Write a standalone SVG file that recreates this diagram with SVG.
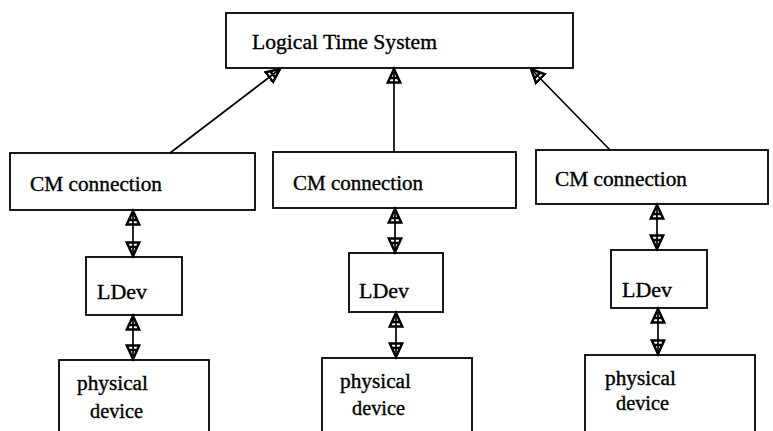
<svg xmlns="http://www.w3.org/2000/svg" width="773" height="431" viewBox="0 0 773 431">
  <style>
    .box { fill: #fff; stroke: #000; stroke-width: 1.8; }
    .conn { stroke: #000; stroke-width: 1.7; fill: none; }
  </style>
  <defs>
    <marker id="head" markerUnits="userSpaceOnUse" markerWidth="18" markerHeight="16" refX="13" refY="7" viewBox="0 0 16 14" orient="auto-start-reverse">
      <path d="M1,1.5 L13,7 L1,12.5 Z M5,3.3 L5,10.7" fill="none" stroke="#000" stroke-width="2.2" stroke-linejoin="miter"/>
    </marker>
  </defs>

  <rect width="773" height="431" fill="#fff"/>

  <!-- all labels share one serif face, stretched to the printed widths -->
  <g font-family="Liberation Serif, DejaVu Serif, serif" font-size="20" fill="#000" stroke="#000" stroke-width="0.35">
    <g id="logical-time-system">
      <rect class="box" x="226" y="13" width="347" height="55"/>
      <text x="252" y="49" textLength="185" lengthAdjust="spacingAndGlyphs">Logical Time System</text>
    </g>

    <g id="cm-connection-1">
      <rect class="box" x="10" y="153" width="245" height="57"/>
      <text x="30" y="191" textLength="132" lengthAdjust="spacingAndGlyphs">CM connection</text>
    </g>
    <g id="cm-connection-2">
      <rect class="box" x="273" y="152" width="243" height="56"/>
      <text x="293" y="190" textLength="130" lengthAdjust="spacingAndGlyphs">CM connection</text>
    </g>
    <g id="cm-connection-3">
      <rect class="box" x="536" y="150" width="232" height="54"/>
      <text x="555" y="186" textLength="132" lengthAdjust="spacingAndGlyphs">CM connection</text>
    </g>

    <g id="ldev-1">
      <rect class="box" x="86" y="257" width="96" height="58"/>
      <text x="97" y="299" textLength="50" lengthAdjust="spacingAndGlyphs">LDev</text>
    </g>
    <g id="ldev-2">
      <rect class="box" x="349" y="253" width="94" height="59"/>
      <text x="359" y="298" textLength="50" lengthAdjust="spacingAndGlyphs">LDev</text>
    </g>
    <g id="ldev-3">
      <rect class="box" x="611" y="250" width="96" height="58"/>
      <text x="622" y="297" textLength="50" lengthAdjust="spacingAndGlyphs">LDev</text>
    </g>

    <g id="physical-device-1">
      <rect class="box" x="59" y="360" width="150" height="90"/>
      <text x="77" y="390" textLength="71" lengthAdjust="spacingAndGlyphs">physical</text>
      <text x="90" y="418" textLength="53" lengthAdjust="spacingAndGlyphs">device</text>
    </g>
    <g id="physical-device-2">
      <rect class="box" x="322" y="358" width="150" height="90"/>
      <text x="340" y="388" textLength="71" lengthAdjust="spacingAndGlyphs">physical</text>
      <text x="352" y="415" textLength="53" lengthAdjust="spacingAndGlyphs">device</text>
    </g>
    <g id="physical-device-3">
      <rect class="box" x="585" y="355" width="170" height="90"/>
      <text x="605" y="385" textLength="71" lengthAdjust="spacingAndGlyphs">physical</text>
      <text x="616" y="410" textLength="53" lengthAdjust="spacingAndGlyphs">device</text>
    </g>
  </g>

  <g id="connectors">
    <line class="conn" x1="170" y1="153" x2="280" y2="69" marker-end="url(#head)"/>
    <line class="conn" x1="394" y1="152" x2="394" y2="69" marker-end="url(#head)"/>
    <line class="conn" x1="610" y1="150" x2="531" y2="69" marker-end="url(#head)"/>

    <line class="conn" x1="133" y1="211" x2="133" y2="256" marker-start="url(#head)" marker-end="url(#head)"/>
    <line class="conn" x1="133" y1="316" x2="133" y2="359" marker-start="url(#head)" marker-end="url(#head)"/>
    <line class="conn" x1="395" y1="209" x2="395" y2="252" marker-start="url(#head)" marker-end="url(#head)"/>
    <line class="conn" x1="396" y1="313" x2="396" y2="357" marker-start="url(#head)" marker-end="url(#head)"/>
    <line class="conn" x1="657" y1="205" x2="657" y2="249" marker-start="url(#head)" marker-end="url(#head)"/>
    <line class="conn" x1="658" y1="309" x2="658" y2="354" marker-start="url(#head)" marker-end="url(#head)"/>
  </g>
</svg>
